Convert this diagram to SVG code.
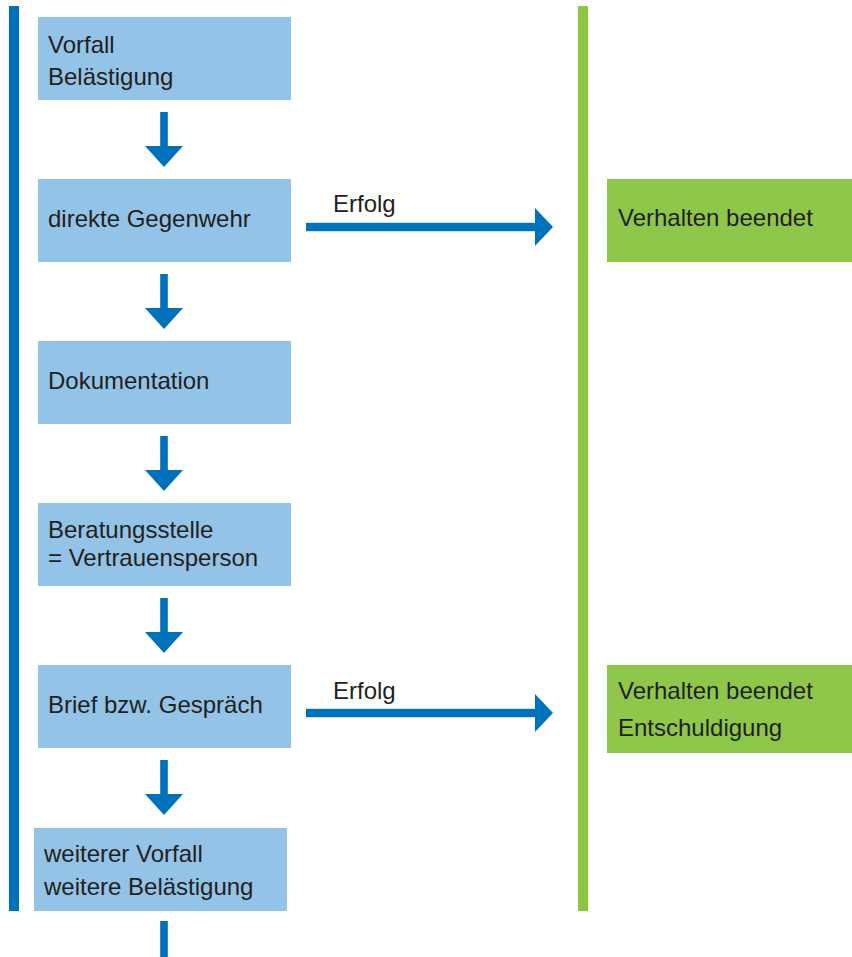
<svg xmlns="http://www.w3.org/2000/svg" width="852" height="957" viewBox="0 0 852 957">
<style>
.box{fill:#94c3e8}
.gbox{fill:#8fc74a}
.t{font-family:"Liberation Sans",Arial,sans-serif;font-size:24px;fill:#231f20}
.blue{fill:#0071bb}
.green{fill:#8dc641}
</style>
<defs>
<g id="down"><rect x="-3.8" y="0" width="7.6" height="36" class="blue"/><polygon points="-19,34 19,34 0,55" class="blue"/></g>
<g id="right"><rect x="0" y="-4.2" width="232" height="8.4" class="blue"/><polygon points="229,-19 229,19 247,0" class="blue"/></g>
</defs>
<rect x="9" y="6" width="10" height="905" class="blue"/>
<rect x="578" y="6" width="10" height="905" class="green"/>
<g id="n1"><rect x="38" y="17" width="253" height="83" class="box"/><text x="48" y="53" class="t">Vorfall</text><text x="48" y="85" class="t">Belästigung</text></g>
<g id="n2"><rect x="38" y="179" width="253" height="83" class="box"/><text x="48" y="227" class="t">direkte Gegenwehr</text></g>
<g id="n3"><rect x="38" y="341" width="253" height="83" class="box"/><text x="48" y="389" class="t">Dokumentation</text></g>
<g id="n4"><rect x="38" y="503" width="253" height="83" class="box"/><text x="48" y="538" class="t">Beratungsstelle</text><text x="48" y="566" class="t">= Vertrauensperson</text></g>
<g id="n5"><rect x="38" y="665" width="253" height="83" class="box"/><text x="48" y="713" class="t">Brief bzw. Gespräch</text></g>
<g id="n6"><rect x="34" y="828" width="253" height="83" class="box"/><text x="44" y="862" class="t">weiterer Vorfall</text><text x="44" y="895" class="t">weitere Belästigung</text></g>
<g id="g1"><rect x="607" y="179" width="245" height="83" class="gbox"/><text x="618" y="226" class="t">Verhalten beendet</text></g>
<g id="g2"><rect x="607" y="665" width="245" height="88" class="gbox"/><text x="618" y="699" class="t">Verhalten beendet</text><text x="618" y="736" class="t">Entschuldigung</text></g>
<g id="connectors">
<use href="#down" x="164" y="112"/>
<use href="#down" x="164" y="274"/>
<use href="#down" x="164" y="436"/>
<use href="#down" x="164" y="598"/>
<use href="#down" x="164" y="760"/>
<rect x="160.2" y="921" width="7.6" height="36" class="blue"/>
<use href="#right" x="306" y="227"/>
<text x="333" y="212" class="t">Erfolg</text>
<use href="#right" x="306" y="713"/>
<text x="333" y="699" class="t">Erfolg</text>
</g>
</svg>
